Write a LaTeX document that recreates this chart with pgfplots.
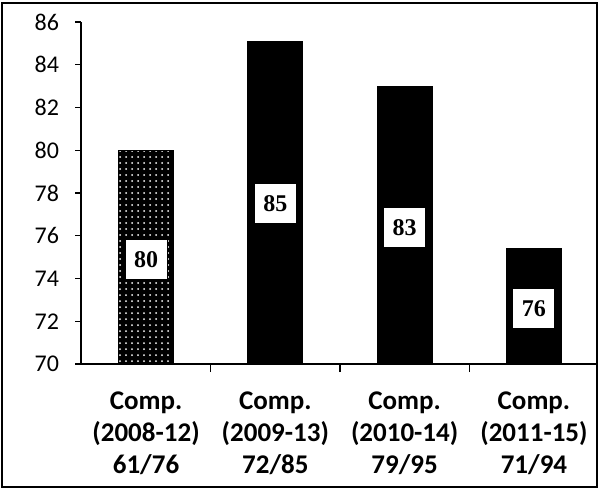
\documentclass[border=0pt]{standalone}
\usepackage{fontspec}
\setmainfont{Carlito}
\newfontfamily\valfont{Liberation Serif}
\usepackage{pgfplots}
\pgfplotsset{compat=1.18}
\usetikzlibrary{patterns}
\begin{document}
\begin{tikzpicture}[
  value/.style={fill=white, draw=black, line width=0.5pt,
    font=\valfont\bfseries\fontsize{12}{12}\selectfont,
    minimum width=21pt, minimum height=20pt, inner sep=1pt},
]
\useasboundingbox (0,0) rectangle (304pt,246.5pt);
% outer frame of the figure
\draw[line width=0.7pt] (1pt,3pt) rectangle (298.5pt,245pt);
\begin{axis}[
  at={(40.5pt,64.5pt)}, anchor=south west,
  scale only axis, width=257.5pt, height=171pt,
  axis lines=left, axis line style={-, line width=0.7pt},
  xmin=-0.503, xmax=3.48, ymin=70, ymax=86,
  ytick={70,72,...,86},
  xtick={0,1,2,3},
  xticklabels={{Comp.\\(2008-12)\\61/76},{Comp.\\(2009-13)\\72/85},{Comp.\\(2010-14)\\79/95},{Comp.\\(2011-15)\\71/94}},
  minor xtick={0.5,1.5,2.5},
  major x tick style={draw=none},
  tick align=outside, major tick length=3pt, minor tick length=4pt,
  tick style={black, line width=0.6pt},
  /pgf/number format/assume math mode=true,
  yticklabel style={font=\fontsize{12}{12}\selectfont, xshift=-4.5pt},
  xticklabel style={align=center, font=\fontsize{13.5}{16}\selectfont\bfseries, yshift=-7.5pt},
]
\addplot[ybar, bar shift=0pt, bar width=27.5pt, fill=black, draw=black,
  postaction={pattern=dots, pattern color=white}]
  coordinates {(0,80)};
\addplot[ybar, bar shift=0pt, bar width=27.5pt, fill=black, draw=black]
  coordinates {(1,85.1) (2,83) (3,75.4)};
\node[value] at (axis cs:0,74.9) {80};
\node[value] at (axis cs:1,77.5) {85};
\node[value] at (axis cs:2,76.4) {83};
\node[value] at (axis cs:3,72.6) {76};
\end{axis}
\end{tikzpicture}
\end{document}
